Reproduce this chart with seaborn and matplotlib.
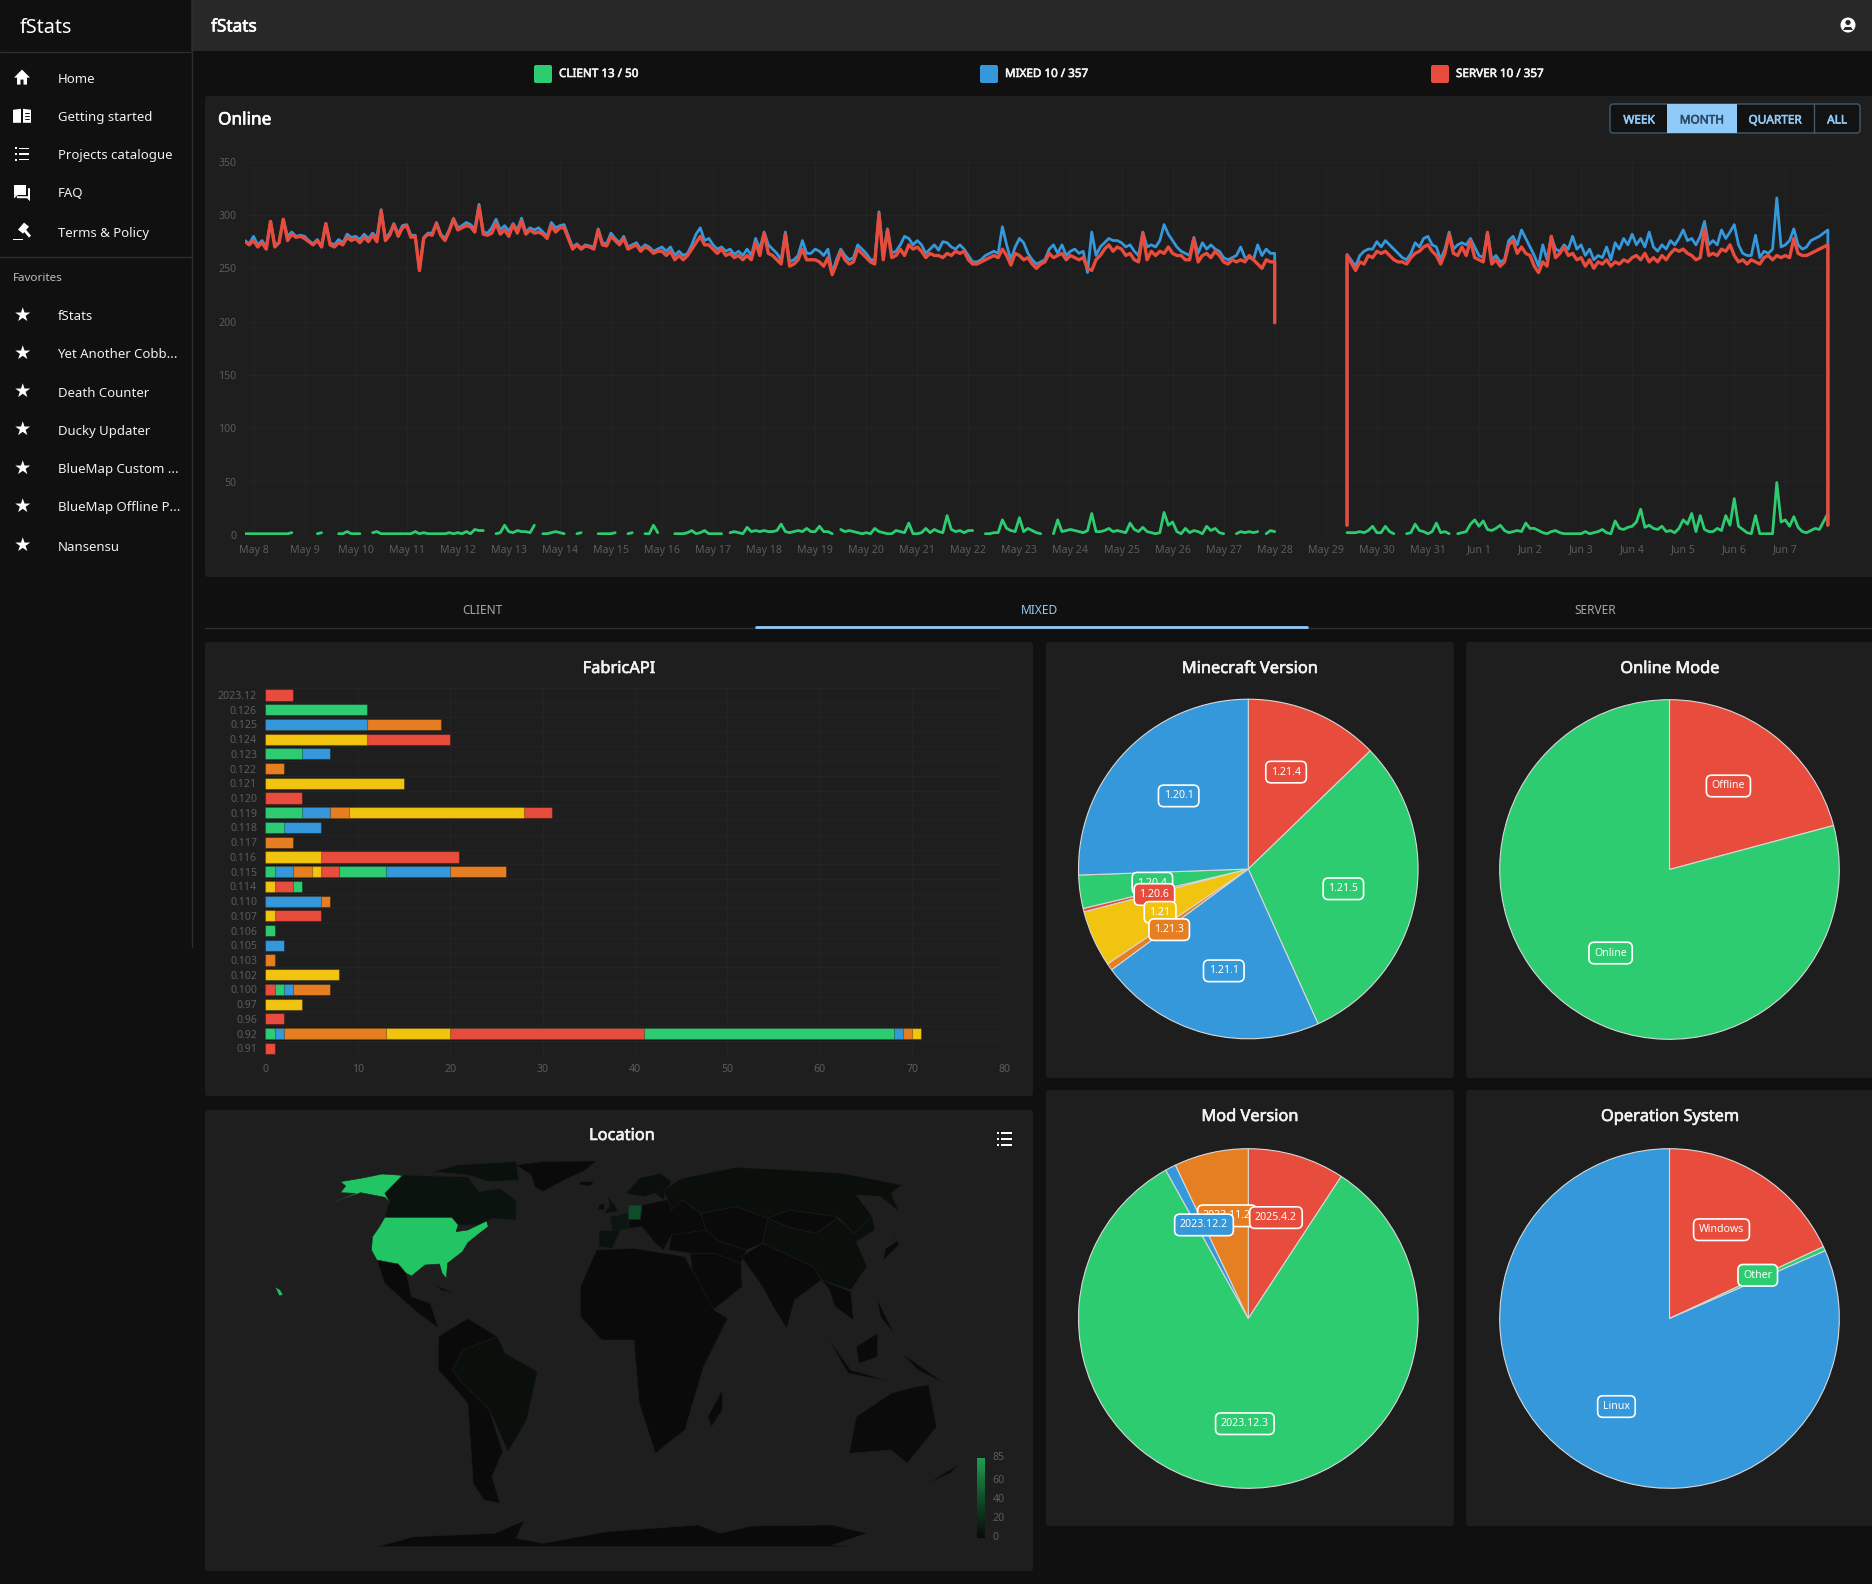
import matplotlib
matplotlib.use("Agg")
import matplotlib.patheffects as pe
import matplotlib.pyplot as plt
import numpy as np
import pandas as pd
import seaborn as sns
from matplotlib.colors import LinearSegmentedColormap
from matplotlib.patches import Circle, FancyBboxPatch, Polygon, Rectangle

W, H = 1872, 1584
nan = np.nan

RED, GREEN, BLUE, ORANGE, YELLOW = "#e74c3c", "#2ecc71", "#3498db", "#e67e22", "#f1c40f"

nav_items = ["Home", "Getting started", "Projects catalogue", "FAQ", "Terms & Policy"]
favorites = ["fStats", "Yet Another Cobb...", "Death Counter", "Ducky Updater",
             "BlueMap Custom ...", "BlueMap Offline P...", "Nansensu"]
side_labels = ["CLIENT 13 / 50", "MIXED 10 / 357", "SERVER 10 / 357"]
range_buttons = ["WEEK", "MONTH", "QUARTER", "ALL"]
tabs = ["CLIENT", "MIXED", "SERVER"]

# online players, one reading every 2 hours from May 7 20:00
online_server = [
    275, 272,
    276, 270, 274, 268, 294, 270, 274, 296, 276, 282, 279, 280,
    278, 275, 272, 276, 270, 292, 272, 270, 274, 272, 279, 276,
    278, 274, 279, 275, 281, 275, 304, 276, 281, 291, 280, 288,
    290, 279, 280, 248, 278, 282, 281, 292, 281, 276, 285, 296,
    286, 288, 290, 289, 284, 308, 282, 281, 283, 292, 282, 286,
    280, 291, 283, 294, 282, 286, 283, 284, 282, 278, 290, 284,
    288, 288, 278, 268, 272, 268, 271, 270, 268, 286, 272, 271,
    280, 276, 272, 278, 268, 270, 272, 266, 270, 268, 264, 266,
    266, 262, 266, 258, 262, 258, 262, 268, 274, 280, 272, 272,
    268, 264, 268, 262, 264, 260, 262, 258, 262, 258, 274, 262,
    283, 264, 262, 258, 254, 282, 252, 254, 258, 268, 258, 258,
    258, 256, 252, 260, 244, 254, 266, 258, 254, 256, 268, 264,
    260, 256, 254, 301, 258, 286, 260, 262, 268, 262, 272, 268,
    270, 266, 260, 264, 262, 262, 260, 264, 262, 266, 264, 266,
    258, 254, 254, 256, 258, 260, 262, 260, 268, 262, 253, 264,
    262, 258, 260, 254, 250, 254, 256, 264, 260, 262, 264, 258,
    262, 260, 258, 260, 250, 248, 258, 262, 268, 272, 266, 270,
    268, 262, 264, 258, 256, 283, 258, 266, 262, 266, 264, 270,
    264, 262, 262, 258, 258, 278, 256, 262, 264, 260, 266, 262,
    256, 254, 258, 256, 258, 256, 262, 258, 254, 250, 258, 256,
    256, 199, nan, nan, nan, nan, nan, nan, nan, nan, nan, nan,
    nan, nan, nan, nan, nan, 9, 262, 248, 256, 254, 262, 260,
    266, 264, 266, 262, 258, 256, 256, 254, 260, 264, 266, 270,
    272, 266, 262, 254, 264, 282, 264, 262, 270, 262, 276, 260,
    258, 256, 283, 254, 258, 252, 256, 272, 276, 264, 270, 264,
    262, 252, 246, 256, 252, 280, 260, 264, 270, 262, 264, 258,
    260, 252, 258, 250, 256, 254, 258, 252, 256, 254, 258, 256,
    260, 262, 258, 264, 256, 260, 256, 262, 258, 264, 268, 266,
    268, 264, 262, 258, 260, 287, 262, 264, 262, 268, 266, 272,
    262, 256, 258, 254, 258, 256, 254, 260, 262, 258, 262, 260,
    262, 260, 278, 264, 262, 262, 264, 266, 268, 272, 9,
]
online_mixed = [
    276, 273,
    280, 272, 276, 270, 294, 272, 274, 296, 280, 284, 280, 281,
    280, 276, 273, 277, 271, 292, 274, 272, 277, 274, 282, 279,
    280, 277, 282, 278, 283, 279, 305, 278, 283, 292, 282, 290,
    291, 281, 281, 248, 279, 283, 283, 293, 282, 278, 286, 297,
    288, 290, 293, 291, 287, 310, 284, 283, 288, 296, 286, 290,
    285, 292, 286, 297, 284, 288, 286, 288, 284, 280, 293, 288,
    290, 291, 280, 270, 273, 269, 272, 271, 270, 287, 274, 273,
    283, 278, 274, 280, 270, 272, 274, 268, 272, 270, 266, 268,
    270, 266, 270, 262, 266, 262, 264, 272, 282, 288, 276, 278,
    272, 268, 270, 266, 268, 263, 266, 262, 268, 262, 278, 268,
    284, 272, 268, 264, 258, 284, 256, 258, 262, 276, 264, 264,
    268, 266, 262, 268, 246, 258, 268, 262, 258, 260, 272, 268,
    264, 258, 258, 303, 262, 287, 264, 266, 272, 280, 278, 272,
    276, 272, 264, 268, 272, 267, 275, 274, 270, 268, 272, 268,
    262, 256, 256, 258, 262, 264, 266, 264, 289, 272, 258, 270,
    278, 274, 264, 258, 254, 256, 258, 268, 272, 264, 272, 262,
    266, 268, 264, 266, 246, 284, 262, 270, 274, 278, 276, 276,
    274, 270, 272, 266, 262, 284, 270, 272, 270, 276, 291, 282,
    276, 270, 266, 264, 262, 279, 264, 274, 268, 272, 268, 266,
    260, 258, 260, 262, 270, 260, 260, 258, 272, 262, 268, 264,
    264, 199, nan, nan, nan, nan, nan, nan, nan, nan, nan, nan,
    nan, nan, nan, nan, nan, 9, 263, 252, 262, 266, 268, 268,
    275, 270, 276, 272, 268, 264, 260, 258, 264, 274, 270, 278,
    280, 272, 270, 258, 268, 284, 268, 272, 274, 272, 278, 270,
    262, 260, 284, 258, 262, 256, 258, 276, 280, 272, 286, 278,
    270, 262, 252, 272, 258, 280, 268, 266, 272, 268, 280, 268,
    272, 262, 268, 258, 262, 260, 270, 258, 274, 268, 278, 272,
    282, 272, 278, 270, 284, 270, 266, 272, 268, 276, 272, 278,
    286, 276, 278, 272, 280, 294, 272, 276, 272, 286, 278, 284,
    291, 272, 264, 262, 262, 281, 260, 266, 264, 268, 316, 270,
    272, 276, 287, 272, 268, 270, 276, 278, 280, 286, 9,
]
online_client = [
    1, 1,
    1, 1, 1, 1, 1, 1, 1, 1, 1, 2, nan, nan,
    nan, nan, nan, 1, 2, nan, nan, nan, 1, 1, 3, 1,
    1, 1, nan, nan, 2, 3, 1, 1, 1, 1, 1, 1,
    1, 1, 3, 1, 2, 1, 1, 1, 1, 1, 2, 1,
    2, 1, 3, 1, 5, 4, 4, nan, nan, 1, 2, 9,
    3, 2, 4, 3, 3, 2, 9, nan, 1, 1, 2, 3,
    2, 1, nan, nan, 1, 2, nan, nan, nan, 1, 1, 1,
    1, 2, nan, nan, 1, 2, nan, nan, 1, 1, 9, 2,
    nan, nan, nan, 1, 1, 1, 2, 4, 1, 2, 4, 1,
    1, 1, 1, nan, 2, 3, 2, 1, 7, 3, 4, 3,
    4, 3, 3, 4, 10, 3, 2, 3, 4, 3, 6, 3,
    3, 8, 3, 3, 1, nan, 5, 3, 4, 3, 2, 1,
    2, 1, 6, 3, 2, 1, 1, 4, 3, 2, 11, 1,
    1, 2, 6, 2, 5, 3, 2, 18, 5, 3, 4, 2,
    4, 4, nan, nan, 1, 1, 2, 2, 14, 6, 4, 3,
    16, 3, 6, 4, 2, 1, nan, nan, 1, 14, 3, 4,
    5, 4, 3, 2, 4, 20, 3, 3, 4, 6, 3, 4,
    3, 2, 11, 5, 3, 7, 3, 2, 1, 2, 21, 9,
    12, 3, 1, 6, 2, 4, 3, 1, 8, 4, 6, 2,
    1, nan, nan, 1, 3, 2, 3, 2, 3, nan, 1, 4,
    3, nan, nan, nan, nan, nan, nan, nan, nan, nan, nan, nan,
    nan, nan, nan, nan, nan, nan, 2, 2, 3, 2, 4, 8,
    2, 2, 8, 3, 1, nan, nan, 1, 2, 10, 4, 3,
    1, 3, 11, 2, 3, 1, nan, 1, 2, 3, 10, 14,
    8, 13, 5, 4, 6, 9, 4, 2, 3, 4, 3, 11,
    6, 6, 4, 2, 1, 3, 4, 2, 1, 1, 1, 1,
    1, 3, 1, 2, 3, 5, 2, 1, 13, 6, 5, 7,
    8, 12, 24, 7, 9, 6, 5, 8, 3, 4, 2, 6,
    14, 10, 20, 3, 18, 5, 3, 3, 6, 4, 18, 9,
    34, 8, 5, 2, 1, 18, 1, 1, 1, 1, 49, 12,
    14, 8, 17, 7, 3, 2, 4, 6, 5, 20, 14,
]

fabric_versions = ["2023.12", "0.126", "0.125", "0.124", "0.123", "0.122", "0.121", "0.120",
                   "0.119", "0.118", "0.117", "0.116", "0.115", "0.114", "0.110", "0.107",
                   "0.106", "0.105", "0.103", "0.102", "0.100", "0.97", "0.96", "0.92", "0.91"]
fabric_counts = [[3], [11], [11, 8], [11, 9], [4, 3], [2], [15], [4],
                 [4, 3, 2, 19, 3], [2, 4], [3], [6, 15], [1, 2, 2, 1, 2, 5, 7, 6], [1, 2, 1],
                 [6, 1], [1, 5], [1], [2], [1], [8], [1, 1, 1, 4], [4], [2],
                 [1, 1, 11, 7, 21, 27, 1, 1, 1], [1]]
fabric_colors = [[RED], [GREEN], [BLUE, ORANGE], [YELLOW, RED], [GREEN, BLUE], [ORANGE], [YELLOW], [RED],
                 [GREEN, BLUE, ORANGE, YELLOW, RED], [GREEN, BLUE], [ORANGE], [YELLOW, RED],
                 [GREEN, BLUE, ORANGE, YELLOW, RED, GREEN, BLUE, ORANGE], [YELLOW, RED, GREEN],
                 [BLUE, ORANGE], [YELLOW, RED], [GREEN], [BLUE], [ORANGE], [YELLOW],
                 [RED, GREEN, BLUE, ORANGE], [YELLOW], [RED],
                 [GREEN, BLUE, ORANGE, YELLOW, RED, GREEN, BLUE, ORANGE, YELLOW], [RED]]

minecraft_labels = ["1.21.4", "1.21.5", "1.21.1", "1.21.3", "1.21", "1.20.6", "1.20.4", "1.20.1"]
minecraft_values = [46, 110, 78, 2.4, 19.4, 1.2, 11.4, 92.2]
minecraft_colors = [RED, GREEN, BLUE, ORANGE, YELLOW, RED, GREEN, BLUE]

online_mode_labels = ["Offline", "Online"]
online_mode_values = [75, 285]
online_mode_colors = [RED, GREEN]

mod_labels = ["2025.4.2", "2023.12.3", "2023.12.2", "2023.11.2"]
mod_values = [33.2, 297.7, 3.7, 25.4]
mod_colors = [RED, GREEN, BLUE, ORANGE]

os_labels = ["Windows", "Other", "Linux"]
os_values = [65, 1.5, 293.5]
os_colors = [RED, GREEN, BLUE]

# location values and rough country outlines
location_names = ["USA", "Alaska", "Hawaii", "Canada", "Arctic", "Germany", "France", "UK", "Ireland",
                  "Spain", "Nordics", "Russia", "China", "Brazil", "Australia"]
location_counts = [85, 85, 85, 12, 8, 52, 16, 9, 3, 10, 5, 6, 7, 6, 1]
land_outlines = {
    "USA": [(345, 322), (470, 322), (482, 345), (478, 365), (500, 360), (535, 333), (538, 350), (520, 372),
            (500, 398), (490, 425), (462, 460), (460, 505), (452, 490), (447, 462), (420, 465), (395, 498),
            (385, 490), (370, 462), (330, 450), (320, 420), (322, 380), (335, 350)],
    "Alaska": [(340, 192), (378, 196), (345, 250), (355, 278), (345, 262), (300, 248), (240, 282), (290, 250),
               (262, 248), (272, 228), (262, 215), (300, 205)],
    "Hawaii": [(140, 530), (150, 540), (155, 555), (148, 558)],
    "Canada": [(380, 195), (470, 200), (500, 200), (520, 245), (560, 235), (590, 270), (590, 330), (545, 325),
               (520, 345), (482, 345), (470, 322), (345, 322), (352, 280), (345, 250)],
    "Arctic": [(435, 185), (480, 165), (590, 155), (595, 210), (540, 215), (500, 195)],
    "Greenland": [(590, 165), (640, 155), (740, 153), (715, 185), (680, 210), (640, 245), (625, 230), (618, 195)],
    "Iceland": [(708, 215), (735, 215), (728, 228), (710, 225)],
    "UK": [(760, 258), (775, 285), (780, 305), (755, 310), (765, 285)],
    "Ireland": [(745, 285), (755, 280), (755, 298), (743, 300)],
    "France": [(765, 320), (798, 310), (800, 355), (770, 365)],
    "Germany": [(800, 285), (825, 285), (822, 328), (800, 328)],
    "Spain": [(745, 362), (785, 360), (770, 415), (745, 410)],
    "Europe": [(825, 285), (870, 270), (900, 270), (935, 310), (945, 360), (910, 380), (880, 375), (865, 420),
               (850, 400), (825, 350), (800, 355), (800, 328), (822, 328)],
    "Nordics": [(795, 250), (820, 205), (860, 190), (880, 215), (865, 270), (850, 250), (830, 260), (810, 255)],
    "Russia": [(865, 240), (900, 205), (1000, 172), (1100, 180), (1200, 190), (1310, 225), (1290, 250),
               (1305, 305), (1270, 260), (1225, 255), (1255, 320), (1220, 370), (1190, 320), (1100, 300),
               (1060, 325), (1000, 290), (935, 310), (900, 270), (880, 300)],
    "Central Asia": [(935, 310), (1000, 290), (1060, 325), (1050, 400), (1020, 420), (970, 395), (945, 360)],
    "Mongolia": [(1060, 325), (1100, 300), (1190, 320), (1190, 325), (1150, 370), (1100, 352)],
    "China": [(1050, 400), (1060, 325), (1100, 352), (1150, 370), (1190, 325), (1220, 370), (1255, 320),
              (1260, 360), (1225, 395), (1245, 470), (1215, 540), (1160, 510), (1145, 470)],
    "Japan": [(1280, 415), (1300, 395), (1290, 355), (1305, 405), (1275, 450)],
    "Middle East": [(880, 375), (945, 360), (970, 395), (1020, 420), (1010, 460), (960, 430), (915, 430),
                    (875, 420)],
    "Arabia": [(915, 430), (960, 430), (1010, 460), (1012, 530), (950, 610), (920, 500)],
    "India": [(1010, 440), (1050, 400), (1145, 470), (1160, 510), (1110, 570), (1095, 655), (1070, 590),
              (1050, 530)],
    "SE Asia": [(1160, 510), (1215, 545), (1220, 630), (1185, 590), (1175, 540)],
    "Africa": [(740, 420), (810, 415), (905, 440), (960, 600), (985, 625), (940, 770), (905, 960), (850, 1030),
               (820, 880), (810, 690), (750, 690), (710, 620), (710, 530)],
    "Madagascar": [(975, 840), (975, 900), (955, 950), (948, 920)],
    "Mexico": [(330, 450), (370, 462), (385, 490), (395, 560), (430, 580), (445, 655), (400, 600), (345, 520)],
    "Cuba": [(440, 525), (475, 550), (450, 540)],
    "Andes": [(445, 680), (500, 625), (555, 680), (490, 720), (472, 780), (490, 820), (540, 900), (565, 1025),
              (545, 1100), (560, 1180), (530, 1170), (510, 1120), (500, 880), (445, 780)],
    "Brazil": [(555, 680), (570, 730), (630, 785), (610, 930), (575, 1025), (540, 900), (490, 820), (472, 780),
               (490, 720)],
    "Australia": [(1212, 1030), (1225, 920), (1290, 850), (1335, 830), (1360, 825), (1375, 950), (1320, 1060),
                  (1290, 1020)],
    "New Zealand": [(1360, 1118), (1420, 1060), (1430, 1045), (1400, 1090)],
    "Sumatra": [(1170, 680), (1215, 780), (1290, 815), (1210, 790)],
    "Borneo": [(1225, 710), (1265, 670), (1265, 740), (1230, 760)],
    "New Guinea": [(1310, 730), (1390, 820), (1340, 780)],
    "Philippines": [(1265, 570), (1295, 670), (1270, 620)],
    "Antarctica": [(330, 1310), (400, 1280), (550, 1270), (605, 1232), (590, 1285), (640, 1300), (760, 1265),
                   (930, 1245), (970, 1270), (1030, 1248), (1180, 1245), (1245, 1270), (1180, 1305), (1220, 1310)],
}
legend_ticks = ["85", "60", "40", "20", "0"]

assert len(online_server) == len(online_mixed) == len(online_client) == 373

sns.set_theme(style="dark", rc={"figure.facecolor": "#101010", "axes.facecolor": "none"})
plt.rcParams["font.family"] = ["Noto Sans", "DejaVu Sans"]

TICK = "#5c5c5c"
GRID = "#232323"
CARD = "#1e1e1e"
TITLE = "#f2f2f2"


def panel_axes(fig, x0, y0, x1, y1):
    ax = fig.add_axes([x0 / W, 1 - y1 / H, (x1 - x0) / W, (y1 - y0) / H])
    ax.set_facecolor("none")
    ax.set_zorder(2)
    return ax


def clean_axes(ax):
    ax.set_xlabel("")
    ax.set_ylabel("")
    for s in ax.spines.values():
        s.set_visible(False)
    ax.tick_params(length=0, colors=TICK, labelsize=7.6)


def card(base, x0, y0, x1, y1):
    base.add_patch(FancyBboxPatch((x0, y0), x1 - x0, y1 - y0, boxstyle="round,pad=0,rounding_size=3",
                                  fc=CARD, ec="none"))


def medium_text(base, x, y, label, color, **kwargs):
    # only regular and bold are installed, a thin stroke gives the medium weight
    base.text(x, y, label, color=color, va="center",
              path_effects=[pe.withStroke(linewidth=0.45, foreground=color)], **kwargs)


def draw_home(base, x, y):
    base.add_patch(Polygon([(x - 8, y), (x, y - 8), (x + 8, y), (x + 5, y), (x + 5, y + 7), (x + 1.5, y + 7),
                            (x + 1.5, y + 2), (x - 1.5, y + 2), (x - 1.5, y + 7), (x - 5, y + 7), (x - 5, y)],
                           fc="white", ec="none"))


def draw_book(base, x, y):
    base.add_patch(Polygon([(x - 9, y - 6), (x - 1, y - 7), (x - 1, y + 7), (x - 9, y + 7)], fc="white", ec="none"))
    base.add_patch(Polygon([(x + 1, y - 7), (x + 9, y - 6), (x + 9, y + 7), (x + 1, y + 7)], fc="white", ec="none"))
    for dy in (-3, 0, 3):
        base.plot([x + 3, x + 7], [y + dy, y + dy], color="#101010", lw=0.7)


def draw_list(base, x, y, size=7):
    for dy in (-size * 0.8, 0, size * 0.8):
        base.add_patch(Rectangle((x - size, y + dy - 1), 2, 2, fc="white", ec="none"))
        base.add_patch(Rectangle((x - size + 3.5, y + dy - 0.8), size * 2 - 3.5, 1.6, fc="white", ec="none"))


def draw_chat(base, x, y):
    base.add_patch(Rectangle((x - 8, y - 7), 12, 10, fc="white", ec="none"))
    base.add_patch(Polygon([(x - 8, y + 3), (x - 8, y + 6), (x - 4, y + 3)], fc="white", ec="none"))
    base.add_patch(Polygon([(x + 6, y - 4), (x + 8, y - 4), (x + 8, y + 9), (x + 5, y + 6), (x - 5, y + 6),
                            (x - 5, y + 4), (x + 6, y + 4)], fc="white", ec="none"))


def draw_gavel(base, x, y):
    base.add_patch(Polygon([(x + 2, y - 9), (x + 7, y - 5), (x + 1, y + 2), (x - 4, y - 2)], fc="white", ec="none"))
    base.add_patch(Polygon([(x + 1, y - 1), (x + 3, y - 3), (x + 9, y + 4), (x + 7, y + 6)], fc="white", ec="none"))
    base.add_patch(Rectangle((x - 9, y + 7), 10, 1.8, fc="white", ec="none"))


def draw_star(base, x, y):
    base.text(x, y, "\u2605", color="white", fontsize=14, ha="center", va="center", family="DejaVu Sans")


def draw_ui(fig):
    base = fig.add_axes([0, 0, 1, 1])
    base.set_xlim(0, W)
    base.set_ylim(H, 0)
    base.axis("off")
    base.set_zorder(0)

    base.add_patch(Rectangle((191, 0), W - 191, 51, fc="#282828", ec="none"))
    base.plot([0, 191], [51.5, 51.5], color="#2c2c2c", lw=1)
    base.plot([0, 191], [257, 257], color="#2c2c2c", lw=1)
    base.plot([191.5, 191.5], [0, 947], color="#2c2c2c", lw=1)

    base.text(19.5, 28, "fStats", color="white", fontsize=14.2, va="center")
    medium_text(base, 211, 26.5, "fStats", "white", fontsize=12.4)
    base.add_patch(Circle((1848, 25), 7.5, fc="white", ec="none"))
    base.add_patch(Circle((1848, 22.5), 2.6, fc="#282828", ec="none"))
    base.add_patch(Polygon([(1843, 30), (1845, 27), (1851, 27), (1853, 30)], fc="#282828", ec="none"))

    for name, y, icon in zip(nav_items, [77.6, 115.8, 154, 192.2, 231.6],
                             [draw_home, draw_book, draw_list, draw_chat, draw_gavel]):
        icon(base, 22, y)
        base.text(57.5, y + 1.5, name, color="#f0f0f0", fontsize=9.5, va="center")
    base.text(13, 278.5, "Favorites", color="#bdbdbd", fontsize=8.4, va="center")
    for name, y in zip(favorites, [315, 353.4, 391.6, 429.8, 468, 506.2, 545.6]):
        draw_star(base, 22, y)
        base.text(57.5, y + 1.5, name, color="#f0f0f0", fontsize=9.5, va="center")

    for label, color, sx in zip(side_labels, [GREEN, BLUE, RED], [534, 980, 1431]):
        base.add_patch(FancyBboxPatch((sx, 65), 18, 18, boxstyle="round,pad=0,rounding_size=2", fc=color, ec="none"))
        medium_text(base, sx + 25, 74.5, label, "#f2f2f2", fontsize=8.4)

    card(base, 205, 96, W + 5, 577)
    medium_text(base, 218, 119.5, "Online", "white", fontsize=12.4)

    base.add_patch(FancyBboxPatch((1610, 104), 250, 29, boxstyle="round,pad=0,rounding_size=3",
                                  fc="#121212", ec="#3f5a6e", lw=1))
    base.add_patch(Rectangle((1667, 104), 70, 29, fc="#90caf9", ec="none"))
    base.plot([1814, 1814], [104, 133], color="#3f5a6e", lw=1)
    for label, cx in zip(range_buttons, [1639, 1702, 1775, 1837]):
        medium_text(base, cx, 120, label, "#2b4a63" if label == "MONTH" else "#90caf9", fontsize=8.5, ha="center")

    base.plot([205, W], [628, 628], color="#2f2f2f", lw=1)
    base.plot([756, 1307], [626.5, 626.5], color="#90caf9", lw=2)
    for label, cx in zip(tabs, [482, 1039, 1595]):
        base.text(cx, 610, label, color="#90caf9" if label == "MIXED" else "#a8a8a8",
                  fontsize=8.6, ha="center", va="center")

    card(base, 205, 642, 1033, 1096)
    card(base, 205, 1110, 1033, 1571)
    card(base, 1046, 642, 1454, 1078)
    card(base, 1466, 642, W + 5, 1078)
    card(base, 1046, 1090, 1454, 1526)
    card(base, 1466, 1090, W + 5, 1526)

    for label, cx, cy in [("FabricAPI", 619, 669), ("Minecraft Version", 1250, 669), ("Online Mode", 1670, 669),
                          ("Location", 622, 1136), ("Mod Version", 1250, 1117), ("Operation System", 1670, 1117)]:
        medium_text(base, cx, cy, label, TITLE, fontsize=11.8, ha="center")
    draw_list(base, 1004.5, 1139, size=7.5)


def draw_online(fig):
    ax = panel_axes(fig, 245, 161.7, 1830, 534.8)
    times = pd.Series(pd.date_range("2025-05-07 20:00", periods=len(online_server), freq="2h"))
    # the three outage edges are vertical in the chart, not a two hour slope
    drop_at = online_server.index(199)
    rise_at = online_server.index(9)
    times[drop_at] = times[drop_at - 1]
    times[rise_at + 1] = times[rise_at]
    times[len(times) - 2] = times[len(times) - 1]
    frames = []
    for name, values in [("CLIENT", online_client), ("MIXED", online_mixed), ("SERVER", online_server)]:
        part = pd.DataFrame({"time": times, "online": values, "type": name})
        part["segment"] = part["online"].isna().cumsum()
        frames.append(part)
    df = pd.concat(frames, ignore_index=True)
    sns.lineplot(data=df, x="time", y="online", hue="type", size="type", units="segment", estimator=None,
                 hue_order=["CLIENT", "MIXED", "SERVER"], palette=[GREEN, BLUE, RED],
                 size_order=["CLIENT", "MIXED", "SERVER"], sizes=[2.0, 2.0, 2.4],
                 sort=False, legend=False, ax=ax)
    days = pd.date_range("2025-05-08", "2025-06-07", freq="D")
    ax.set_xticks(days)
    ax.set_xticklabels([f"{d.strftime('%b')} {d.day}" for d in days])
    ax.set_yticks(range(0, 351, 50))
    ax.set_xlim(pd.Timestamp("2025-05-07 20:00"), pd.Timestamp("2025-06-07 21:00"))
    ax.set_ylim(0, 350)
    clean_axes(ax)
    ax.tick_params(axis="x", pad=7)
    ax.tick_params(axis="y", pad=6)
    ax.grid(True, color=GRID, lw=0.8)


def draw_fabric(fig):
    ax = panel_axes(fig, 265.4, 687.6, 1004.6, 1055.7)
    rows = []
    for version, counts, colors in zip(fabric_versions, fabric_counts, fabric_colors):
        for end, color in zip(np.cumsum(counts), colors):
            rows.append({"version": version, "end": end, "color": color})
    segments = pd.DataFrame(rows).sort_values("end", ascending=False)
    # longest first so shorter pieces paint over them and the bar looks stacked
    for _, seg in segments.iterrows():
        sns.barplot(x=[seg["end"]], y=[seg["version"]], order=fabric_versions, color=seg["color"], saturation=1,
                    width=0.76, edgecolor=(0, 0, 0, 0.28), linewidth=0.8, errorbar=None, ax=ax)
    ax.set_xlim(0, 80)
    ax.set_xticks(range(0, 81, 10))
    ax.set_ylim(len(fabric_versions) - 0.5, -0.5)
    ax.set_yticks(np.arange(len(fabric_versions)) - 0.5, minor=True)
    clean_axes(ax)
    ax.tick_params(axis="both", which="both", length=0, pad=6)
    ax.set_axisbelow(True)
    ax.grid(True, axis="x", color=GRID, lw=0.8)
    ax.grid(True, axis="y", which="minor", color=GRID, lw=0.8)


def draw_pie(fig, cx, cy, labels, values, colors):
    radius = 169.8
    box = radius + 6
    ax = panel_axes(fig, cx - box, cy - box, cx + box, cy + box)
    wedges, _ = ax.pie(values, colors=colors, startangle=90, counterclock=False, radius=radius,
                       wedgeprops={"edgecolor": "#d8d8d8", "linewidth": 0.8})
    ax.set_xlim(-box, box)
    ax.set_ylim(-box, box)
    # later slices sit below earlier ones, so labels are added back to front
    for wedge, label, color in reversed(list(zip(wedges, labels, colors))):
        mid = np.deg2rad((wedge.theta1 + wedge.theta2) / 2)
        ax.text(0.57 * radius * np.cos(mid), 0.62 * radius * np.sin(mid), label, color="white", fontsize=7.6,
                ha="center", va="center", clip_on=False,
                bbox={"boxstyle": "round,pad=0.5,rounding_size=0.5", "fc": color, "ec": "white", "lw": 1.2})


def draw_map(fig):
    ax = panel_axes(fig, 200, 1110, 1040, 1584)
    ax.set_xlim(0, 1568)
    ax.set_ylim(1422, 0)
    ax.axis("off")
    cmap = LinearSegmentedColormap.from_list("location", ["#0a0a0a", "#0a2a17", "#22c563"], N=256)
    counts = dict(zip(location_names, location_counts))
    for name, outline in land_outlines.items():
        value = counts.get(name, 0)
        color = cmap(value / 85)
        ax.add_patch(Polygon(outline, closed=True, fc=color, ec="#1d1d1d", lw=0.4, zorder=2 if value > 20 else 1))

    bar = panel_axes(fig, 977, 1457.7, 985, 1538)
    shades = LinearSegmentedColormap.from_list("legend", ["#0a0a0a", "#0f4d2a", "#1f9d55"], N=64)
    sns.heatmap(np.arange(64, 0, -1).reshape(-1, 1), cmap=shades, cbar=False, xticklabels=False,
                yticklabels=False, ax=bar)
    for label, zy in zip(legend_ticks, [1043, 1112, 1168, 1225, 1282]):
        ax.text(1480, zy, label, color=TICK, fontsize=7.6, va="center")


fig = plt.figure(figsize=(W / 100, H / 100), dpi=100, facecolor="#101010")
draw_ui(fig)
draw_online(fig)
draw_fabric(fig)
draw_pie(fig, 1248.3, 869, minecraft_labels, minecraft_values, minecraft_colors)
draw_pie(fig, 1669.5, 869.5, online_mode_labels, online_mode_values, online_mode_colors)
draw_pie(fig, 1248.3, 1318.5, mod_labels, mod_values, mod_colors)
draw_pie(fig, 1669.5, 1318.5, os_labels, os_values, os_colors)
draw_map(fig)
fig.savefig("out.png", dpi=100, facecolor="#101010")
